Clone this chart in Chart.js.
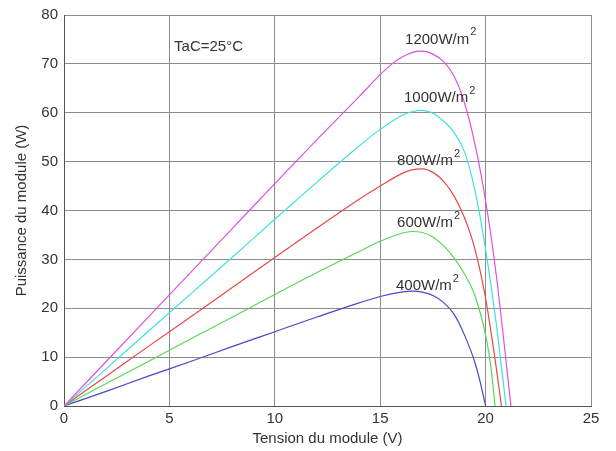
<!DOCTYPE html>
<html>
<head>
<meta charset="utf-8">
<script src="https://cdn.jsdelivr.net/npm/chart.js@4/dist/chart.umd.min.js"></script>
<style>
html,body{margin:0;padding:0;background:#fff;}
#wrap{width:616px;height:451px;position:relative;}
</style>
</head>
<body>
<div id="wrap"><canvas id="c" width="616" height="451"></canvas></div>
<script>
// Voltage (V) / Power (W) readings for each irradiance
const v1200 = [0, 2, 4, 6, 8, 10, 12, 14, 15, 15.5, 16, 16.5, 17, 17.5, 18, 18.5, 19, 19.5, 20, 20.5, 21, 21.2];
const p1200 = [0, 9.1, 18.2, 27.3, 36.4, 45.5, 54.5, 63.3, 67.8, 69.8, 71.3, 72.3, 72.6, 72.0, 70.5, 67.5, 62, 53.5, 42, 27, 8, 0];

const v1000 = [0, 2, 4, 6, 8, 10, 12, 14, 15, 16, 16.5, 17, 17.5, 18, 18.5, 19, 19.5, 20, 20.5, 20.97];
const p1000 = [0, 7.6, 15.3, 22.9, 30.5, 38.2, 45.8, 53.2, 56.6, 59.4, 60.2, 60.5, 59.9, 58.3, 56, 52, 44, 32, 17, 0];

const v800 = [0, 2, 4, 6, 8, 10, 12, 14, 15, 16, 16.5, 17, 17.5, 18, 18.5, 19, 19.5, 20, 20.5, 20.75];
const p800 = [0, 6.1, 12.2, 18.2, 24.3, 30.4, 36.4, 42.3, 45, 47.5, 48.3, 48.5, 47.8, 46, 43, 38.5, 32, 22, 8, 0];

const v600 = [0, 2, 4, 6, 8, 10, 12, 14, 15, 16, 16.5, 17, 17.5, 18, 18.5, 19, 19.5, 20, 20.25, 20.45];
const p600 = [0, 4.6, 9.1, 13.7, 18.2, 22.8, 27.3, 31.6, 33.7, 35.3, 35.7, 35.5, 34.6, 32.8, 30.3, 27, 22.5, 14.5, 8, 0];

const v400 = [0, 2, 4, 6, 8, 10, 12, 14, 15, 16, 16.5, 17, 17.5, 18, 18.5, 19, 19.5, 19.75, 20];
const p400 = [0, 3.0, 6.1, 9.1, 12.2, 15.2, 18.2, 21.1, 22.4, 23.3, 23.5, 23.3, 22.6, 21.2, 18.8, 14.5, 8.8, 4.8, 0];

const seriesNames = ['1200', '1000', '800', '600', '400'];
const xTicks = [0, 5, 10, 15, 20, 25];
const yTicks = [0, 10, 20, 30, 40, 50, 60, 70, 80];

// label anchors (data coords)
const labelPos = {
  '1200': [16.18, 75.0],
  '1000': [16.13, 63.1],
  '800': [15.8, 50.2],
  '600': [15.8, 37.4],
  '400': [15.75, 24.6]
};
const noteText = 'TaC=25°C';
const notePos = [5.22, 73.4];

const colors = ['#e050e0', '#40e0e0', '#e84848', '#58d858', '#4848c8'];
const vs = [v1200, v1000, v800, v600, v400];
const ps = [p1200, p1000, p800, p600, p400];

function pts(v, p) { return v.map((x, i) => ({x: x, y: p[i]})); }

const FONT = "'Liberation Sans', Arial, sans-serif";
Chart.defaults.font.family = FONT;
Chart.defaults.font.size = 15;
Chart.defaults.color = '#333';

const labelsPlugin = {
  id: 'curveLabels',
  afterDatasetsDraw(chart) {
    const ctx = chart.ctx;
    const xs = chart.scales.x, ys = chart.scales.y;
    ctx.save();
    ctx.fillStyle = '#333';
    ctx.textBaseline = 'middle';
    ctx.textAlign = 'left';
    seriesNames.forEach(n => {
      const [vx, vy] = labelPos[n];
      const px = xs.getPixelForValue(vx), py = ys.getPixelForValue(vy);
      ctx.font = '15px ' + FONT;
      const main = n + 'W/m';
      ctx.fillText(main, px, py);
      const w = ctx.measureText(main).width;
      ctx.font = '11px ' + FONT;
      ctx.fillText('2', px + w + 1, py - 7);
    });
    ctx.font = '15px ' + FONT;
    ctx.fillText(noteText, xs.getPixelForValue(notePos[0]), ys.getPixelForValue(notePos[1]));
    ctx.restore();
  }
};

new Chart(document.getElementById('c'), {
  type: 'line',
  data: {
    datasets: seriesNames.map((n, i) => ({
      label: n + 'W/m²',
      data: pts(vs[i], ps[i]),
      borderColor: colors[i],
      borderWidth: 1.2,
      pointRadius: 0,
      fill: false,
      cubicInterpolationMode: 'monotone'
    }))
  },
  options: {
    responsive: false,
    animation: false,
    devicePixelRatio: 1,
    layout: { padding: { top: 12, right: 25, left: 0, bottom: 0 } },
    plugins: { legend: { display: false }, tooltip: { enabled: false } },
    scales: {
      x: {
        type: 'linear', min: 0, max: 25,
        afterBuildTicks(s) { s.ticks = xTicks.map(v => ({value: v})); },
        afterFit(s) { s.height = 45; },
        ticks: { padding: 4, maxRotation: 0, color: '#333' },
        grid: { color: '#8c8c8c', lineWidth: 1, drawTicks: false },
        border: { color: '#555', width: 1 },
        title: { display: true, text: 'Tension du module (V)', padding: { top: 0, bottom: 3 }, color: '#333' }
      },
      y: {
        type: 'linear', min: 0, max: 80,
        afterBuildTicks(s) { s.ticks = yTicks.map(v => ({value: v})); },
        afterFit(s) { s.width = 64; },
        ticks: { padding: 6, color: '#333' },
        grid: { color: '#8c8c8c', lineWidth: 1, drawTicks: false },
        border: { color: '#555', width: 1 },
        title: { display: true, text: 'Puissance du module (W)', padding: { top: 13, bottom: 0 }, color: '#333' }
      }
    }
  },
  plugins: [labelsPlugin]
});
</script>
</body>
</html>
